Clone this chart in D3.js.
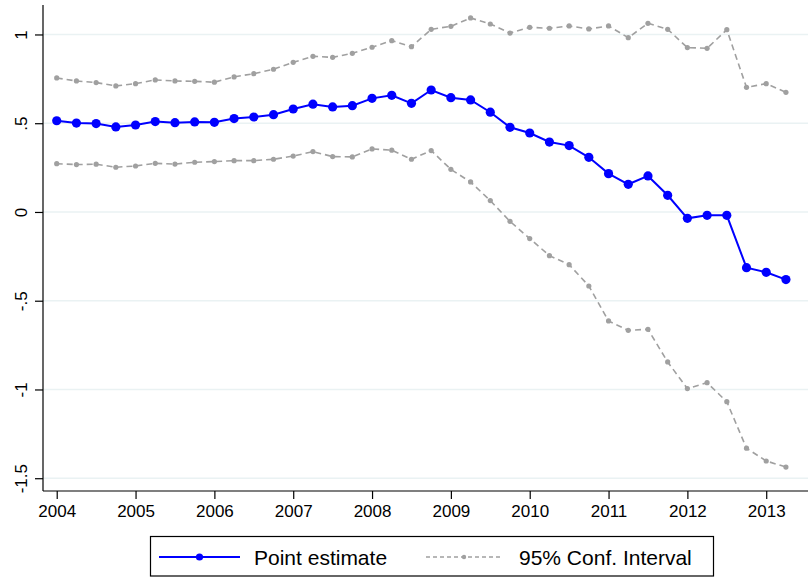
<!DOCTYPE html>
<html>
<head>
<meta charset="utf-8">
<script src="https://cdn.jsdelivr.net/npm/d3@7"></script>
<style>
  html, body { margin: 0; padding: 0; background: #fff; }
  svg { display: block; font-family: "Liberation Sans", Arial, sans-serif; }
</style>
</head>
<body>
<svg id="chart" width="808" height="577"></svg>
<script>
// Quarterly periods, 2004q1 – 2013q2, as decimal years
const periods = d3.range(38).map(i => 2004 + i * 0.25);

const pointEstimate = [
  0.514, 0.501, 0.498, 0.479,
  0.490, 0.509, 0.503, 0.507,
  0.505, 0.526, 0.535, 0.548,
  0.580, 0.607, 0.592, 0.599,
  0.640, 0.657, 0.612, 0.687,
  0.644, 0.631, 0.562, 0.477,
  0.445, 0.394, 0.374, 0.308,
  0.216, 0.156, 0.203, 0.094,
  -0.036, -0.019, -0.019, -0.314,
  -0.340, -0.381
];

const ciUpper = [
  0.755, 0.738, 0.729, 0.710,
  0.723, 0.744, 0.738, 0.736,
  0.731, 0.761, 0.779, 0.804,
  0.843, 0.877, 0.871, 0.894,
  0.928, 0.965, 0.931, 1.029,
  1.046, 1.093, 1.059, 1.008,
  1.040, 1.035, 1.048, 1.031,
  1.048, 0.982, 1.063, 1.029,
  0.926, 0.922, 1.027, 0.702,
  0.723, 0.674
];

const ciLower = [
  0.272, 0.267, 0.269, 0.252,
  0.259, 0.274, 0.270, 0.280,
  0.284, 0.289, 0.289, 0.297,
  0.315, 0.340, 0.312, 0.310,
  0.355, 0.348, 0.297, 0.346,
  0.240, 0.169, 0.064, -0.053,
  -0.150, -0.246, -0.297, -0.417,
  -0.614, -0.667, -0.661, -0.845,
  -0.995, -0.962, -1.069, -1.331,
  -1.403, -1.437
];

const xTicks = [2004, 2005, 2006, 2007, 2008, 2009, 2010, 2011, 2012, 2013];
const yTicks = [1, 0.5, 0, -0.5, -1, -1.5];
const yTickLabels = ["1", ".5", "0", "-.5", "-1", "-1.5"];
const legendLabels = ["Point estimate", "95% Conf. Interval"];

const svg = d3.select("#chart");
const plot = { left: 43, right: 808, top: 5, bottom: 491 };

const x = d3.scaleLinear().domain([2003.826, 2013.53]).range([plot.left, plot.right]);
const y = d3.scaleLinear().domain([-1.572, 1.166]).range([plot.bottom, plot.top]);

const blue = "#0000ff";
const grey = "#a0a0a0";
const gridColor = "#eaf2f3";

// gridlines
svg.append("g")
  .selectAll("line")
  .data(yTicks)
  .join("line")
  .attr("x1", plot.left).attr("x2", plot.right)
  .attr("y1", d => y(d)).attr("y2", d => y(d))
  .attr("stroke", gridColor).attr("stroke-width", 1.5);

// y axis
const yAxis = svg.append("g")
  .attr("transform", `translate(${plot.left},0)`)
  .call(d3.axisLeft(y).tickValues(yTicks).tickSize(8).tickSizeOuter(0)
    .tickFormat((d, i) => yTickLabels[i]));
yAxis.select(".domain").attr("stroke", "#000").attr("stroke-width", 1.2)
  .attr("d", `M0,${plot.top}V${plot.bottom}`);
yAxis.selectAll(".tick line").attr("stroke", "#000").attr("stroke-width", 1.2);
yAxis.selectAll(".tick text")
  .attr("font-size", 17).attr("fill", "#000")
  .attr("x", 0).attr("dy", 0)
  .attr("text-anchor", "middle")
  .attr("transform", "translate(-16,0) rotate(-90)");

// x axis
const xAxis = svg.append("g")
  .attr("transform", `translate(0,${plot.bottom})`)
  .call(d3.axisBottom(x).tickValues(xTicks).tickSize(8).tickSizeOuter(0)
    .tickFormat(d3.format("d")));
xAxis.select(".domain").attr("stroke", "#000").attr("stroke-width", 1.2)
  .attr("d", `M${plot.left},0H${plot.right}`);
xAxis.selectAll(".tick line").attr("stroke", "#000").attr("stroke-width", 1.2);
xAxis.selectAll(".tick text")
  .attr("font-size", 17).attr("fill", "#000")
  .attr("y", 26).attr("dy", 0);

// series
const line = d3.line().x((d, i) => x(periods[i])).y(d => y(d));

function drawCI(values) {
  svg.append("path").datum(values)
    .attr("d", line).attr("fill", "none")
    .attr("stroke", grey).attr("stroke-width", 1.6)
    .attr("stroke-dasharray", "6,4");
  svg.append("g").selectAll("circle").data(values).join("circle")
    .attr("cx", (d, i) => x(periods[i])).attr("cy", d => y(d))
    .attr("r", 2.6).attr("fill", grey);
}
drawCI(ciUpper);
drawCI(ciLower);

svg.append("path").datum(pointEstimate)
  .attr("d", line).attr("fill", "none")
  .attr("stroke", blue).attr("stroke-width", 2);
svg.append("g").selectAll("circle").data(pointEstimate).join("circle")
  .attr("cx", (d, i) => x(periods[i])).attr("cy", d => y(d))
  .attr("r", 4.6).attr("fill", blue);

// legend
const legend = svg.append("g");
legend.append("rect")
  .attr("x", 150.5).attr("y", 536.5).attr("width", 563).attr("height", 39.5)
  .attr("fill", "#fff").attr("stroke", "#000").attr("stroke-width", 1.2);
const ly = 557;
legend.append("line").attr("x1", 159).attr("x2", 240).attr("y1", ly).attr("y2", ly)
  .attr("stroke", blue).attr("stroke-width", 2);
legend.append("circle").attr("cx", 199.5).attr("cy", ly).attr("r", 3.6).attr("fill", blue);
legend.append("text").attr("x", 254).attr("y", ly + 7.5)
  .attr("font-size", 21).text(legendLabels[0]);
legend.append("line").attr("x1", 426).attr("x2", 502).attr("y1", ly).attr("y2", ly)
  .attr("stroke", grey).attr("stroke-width", 1.4).attr("stroke-dasharray", "4,3");
legend.append("circle").attr("cx", 464).attr("cy", ly).attr("r", 2.2).attr("fill", grey);
legend.append("text").attr("x", 519).attr("y", ly + 7.5)
  .attr("font-size", 21).text(legendLabels[1]);
</script>
</body>
</html>
